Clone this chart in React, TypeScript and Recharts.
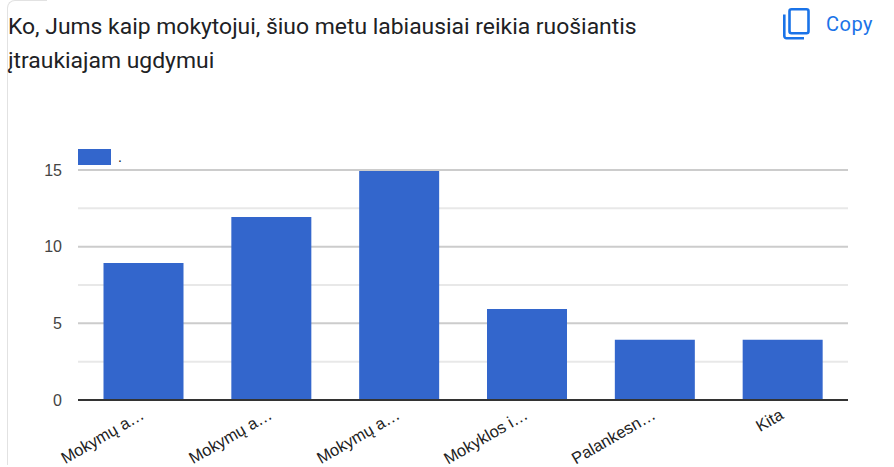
import React from 'react';
import { BarChart, Bar, XAxis, YAxis, CartesianGrid, Legend } from 'recharts';

const categories = ['Mokymų a…', 'Mokymų a…', 'Mokymų a…', 'Mokyklos i…', 'Palankesn…', 'Kita'];
const values = [9, 12, 15, 6, 4, 4];
const yTicks = [0, 2.5, 5, 7.5, 10, 12.5, 15];
const seriesName = '.';

const chartData = categories.map((name, i) => ({ id: i, name, value: values[i] }));

const font = '"Liberation Sans", Arial, sans-serif';

const AngledTick = (props: any) => {
    const { x, y, index } = props;
    return (
        <text
            transform={`translate(${x + 2},${y + 9}) rotate(-30)`}
            textAnchor="end"
            fontFamily={font}
            fontSize={16.5}
            fill="#222222"
        >
            {categories[index]}
        </text>
    );
};

const LegendContent = () => (
    <div style={{ display: 'flex', alignItems: 'center', fontFamily: font, fontSize: 14, color: '#222' }}>
        <div style={{ width: 33, height: 16, background: '#3366cc' }} />
        <span style={{ marginLeft: 7 }}>{seriesName}</span>
    </div>
);

// every other grid line is a major one, the rest are the lighter minor lines.
// the reference has its lines sitting one pixel above the bar tops
const gridLine = (props: any) => (
    <line
        key={props.key}
        x1={props.x1}
        x2={props.x2}
        y1={props.y1 - 1}
        y2={props.y2 - 1}
        stroke={props.index % 2 === 0 ? '#cccccc' : '#e8e8e8'}
        strokeWidth={2}
    />
);

export default function App() {
    return (
        <div style={{ position: 'absolute', left: 0, top: 0, width: 894, height: 467, background: '#fff', overflow: 'hidden' }}>
            <div
                style={{
                    position: 'absolute',
                    left: 7,
                    top: 0,
                    width: 40,
                    height: 465,
                    borderLeft: '1px solid #e2e2e2',
                    borderTop: '1px solid #e2e2e2',
                    borderTopLeftRadius: 8,
                    boxSizing: 'border-box',
                }}
            />
            <div
                style={{
                    position: 'absolute',
                    left: 8,
                    top: 10,
                    width: 700,
                    fontFamily: 'Roboto, sans-serif',
                    fontSize: 22.9,
                    lineHeight: '34px',
                    color: '#202124',
                }}
            >
                Ko, Jums kaip mokytojui, šiuo metu labiausiai reikia ruošiantis
                <br />
                įtraukiajam ugdymui
            </div>
            <svg style={{ position: 'absolute', left: 783, top: 8 }} width={27} height={32} viewBox="0 0 27 32" fill="none" stroke="#1a73e8" strokeWidth={2.6}>
                <rect x={6.5} y={1.3} width={19} height={24} rx={2} />
                <path d="M1.3 6.5 V28 a2.2 2.2 0 0 0 2.2 2.2 H21" />
            </svg>
            <div
                style={{
                    position: 'absolute',
                    left: 826,
                    top: 12,
                    fontFamily: 'Roboto, sans-serif',
                    fontWeight: 400,
                    fontSize: 20,
                    letterSpacing: 0.5,
                    color: '#1a73e8',
                }}
            >
                Copy
            </div>
            <div style={{ position: 'absolute', left: 0, top: 0 }}>
                <BarChart
                    width={894}
                    height={467}
                    data={chartData}
                    margin={{ top: 155, right: 46, bottom: 36, left: 18 }}
                    barSize={80}
                >
                    <CartesianGrid vertical={false} horizontal={gridLine} />
                    <XAxis
                        dataKey="id"
                        padding={{ left: 1.5, right: 1.5 }}
                        axisLine={{ stroke: '#333333', strokeWidth: 2, transform: 'translate(0,-1)' }}
                        tickLine={false}
                        tick={<AngledTick />}
                        interval={0}
                    />
                    <YAxis
                        width={60}
                        domain={[0, 15]}
                        ticks={yTicks}
                        interval={0}
                        axisLine={false}
                        tickLine={false}
                        tickMargin={10}
                        tickFormatter={(v: number) => (Number.isInteger(v / 5) ? String(v) : '')}
                        tick={{ fontFamily: font, fontSize: 16, fill: '#444444', dy: -1 }}
                    />
                    <Legend
                        content={<LegendContent />}
                        verticalAlign="top"
                        wrapperStyle={{ position: 'absolute', left: 78, top: 149, width: 100 }}
                    />
                    <Bar dataKey="value" name={seriesName} fill="#3366cc" isAnimationActive={false} />
                </BarChart>
            </div>
        </div>
    );
}
